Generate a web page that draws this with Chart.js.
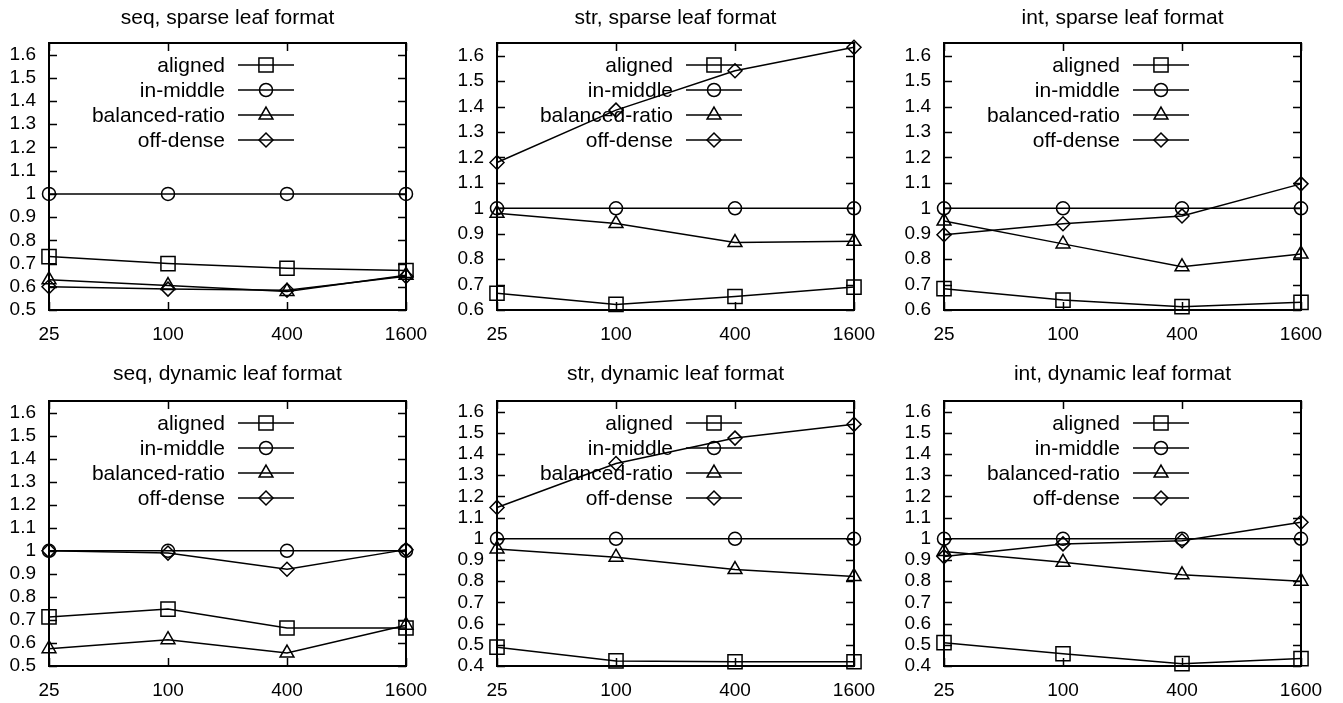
<!DOCTYPE html>
<html>
<head>
<meta charset="utf-8">
<script src="https://cdn.jsdelivr.net/npm/chart.js@4/dist/chart.umd.min.js"></script>
<style>
  html, body { margin: 0; padding: 0; background: #fff; overflow: hidden; }
  canvas { position: absolute; }
</style>
</head>
<body>
<canvas id="c0" width="447" height="345" style="left:0px;top:0px"></canvas>
<canvas id="c1" width="447" height="345" style="left:448px;top:0px"></canvas>
<canvas id="c2" width="447" height="345" style="left:895px;top:0px"></canvas>
<canvas id="c3" width="447" height="345" style="left:0px;top:358px"></canvas>
<canvas id="c4" width="447" height="345" style="left:448px;top:358px"></canvas>
<canvas id="c5" width="447" height="345" style="left:895px;top:358px"></canvas>
<script>
// x: log-spaced sizes, drawn evenly
const sizes = ["25", "100", "400", "1600"];
const seriesNames = ["aligned", "in-middle", "balanced-ratio", "off-dense"];
const markers = ["rect", "circle", "triangle", "rectRot"];
const markerRadius = [10, 6.5, 8, 7];

const titles = [
	"seq, sparse leaf format", "str, sparse leaf format", "int, sparse leaf format",
	"seq, dynamic leaf format", "str, dynamic leaf format", "int, dynamic leaf format"
];
const yMins = [0.5, 0.6, 0.6, 0.5, 0.4, 0.4];
const yMax = 1.65;

// values per panel: aligned, in-middle, balanced-ratio, off-dense
const seqSparse = [
	[0.73, 0.70, 0.68, 0.67],
	[1, 1, 1, 1],
	[0.63, 0.605, 0.58, 0.65],
	[0.60, 0.59, 0.585, 0.645]
];
const strSparse = [
	[0.666, 0.622, 0.653, 0.69],
	[1, 1, 1, 1],
	[0.98, 0.94, 0.865, 0.87],
	[1.18, 1.386, 1.541, 1.633]
];
const intSparse = [
	[0.684, 0.639, 0.613, 0.63],
	[1, 1, 1, 1],
	[0.95, 0.86, 0.77, 0.82],
	[0.896, 0.939, 0.97, 1.096]
];
const seqDynamic = [
	[0.713, 0.747, 0.665, 0.665],
	[1, 1, 1, 1],
	[0.575, 0.614, 0.556, 0.677],
	[1.0, 0.99, 0.92, 1.005]
];
const strDynamic = [
	[0.489, 0.424, 0.42, 0.42],
	[1, 1, 1, 1],
	[0.952, 0.913, 0.855, 0.822],
	[1.148, 1.355, 1.475, 1.54]
];
const intDynamic = [
	[0.51, 0.458, 0.411, 0.435],
	[1, 1, 1, 1],
	[0.94, 0.889, 0.83, 0.80],
	[0.916, 0.976, 0.991, 1.078]
];
const panels = [seqSparse, strSparse, intSparse, seqDynamic, strDynamic, intDynamic];

const FONT = "'Liberation Sans', Arial, sans-serif";

// gnuplot style frame with inward ticks, title over the box, and key
let gnuplotFrame = {
	id: "gnuplotFrame",
	beforeDatasetsDraw: function(chart, args, opts){
		let ctx = chart.ctx;
		let a = chart.chartArea;
		let xs = chart.scales.x, ys = chart.scales.y;
		ctx.save();
		ctx.strokeStyle = "#000";
		ctx.lineWidth = 1.5;
		ctx.beginPath();
		for(let t of ys.ticks){
			let y = Math.round(ys.getPixelForValue(t.value)) + 0.5;
			ctx.moveTo(a.left, y); ctx.lineTo(a.left + 8, y);
			ctx.moveTo(a.right, y); ctx.lineTo(a.right - 8, y);
		}
		for(let i = 0; i < sizes.length; i++){
			let x = Math.round(xs.getPixelForValue(i)) + 0.5;
			ctx.moveTo(x, a.bottom); ctx.lineTo(x, a.bottom - 8);
			ctx.moveTo(x, a.top); ctx.lineTo(x, a.top + 8);
		}
		ctx.stroke();
		ctx.lineWidth = 2;
		ctx.strokeRect(a.left, a.top, a.right - a.left, a.bottom - a.top);

		// title
		ctx.font = "21px " + FONT;
		ctx.fillStyle = "#000";
		ctx.textAlign = "center";
		ctx.textBaseline = "middle";
		ctx.fillText(opts.title, (a.left + a.right) / 2, opts.titleY);

		// key
		ctx.textAlign = "right";
		chart.data.datasets.forEach(function(ds, i){
			let y = a.top + 22 + i * 25;
			ctx.fillStyle = "#000";
			ctx.fillText(ds.label, a.left + 176, y + 1);
			ctx.lineWidth = 1.5;
			ctx.beginPath();
			ctx.moveTo(a.left + 189, y); ctx.lineTo(a.left + 245, y);
			ctx.stroke();
			ctx.fillStyle = "rgba(0,0,0,0)";
			Chart.helpers.drawPoint(ctx, {
				pointStyle: ds.pointStyle, radius: ds.pointRadius, rotation: 0, borderWidth: 1.5
			}, a.left + 217, y);
		});
		ctx.restore();
	}
};

let renderPanel = function(idx){
	let row = idx < 3 ? 0 : 1;
	let datasets = panels[idx].map(function(vals, i){
		return {
			label: seriesNames[i],
			data: vals,
			borderColor: "#000",
			borderWidth: 1.5,
			backgroundColor: "transparent",
			pointStyle: markers[i],
			pointRadius: markerRadius[i],
			pointBorderWidth: 1.5,
			pointBackgroundColor: "transparent",
			pointBorderColor: "#000",
			tension: 0,
			clip: false
		};
	});
	let ctx = document.getElementById("c" + idx).getContext("2d");
	new Chart(ctx, {
		type: "line",
		data: { labels: sizes, datasets: datasets },
		plugins: [gnuplotFrame],
		options: {
			responsive: false,
			animation: false,
			layout: { padding: { left: 0, right: 41, top: 43, bottom: 0 } },
			plugins: {
				legend: { display: false },
				tooltip: { enabled: false },
				title: { display: false },
				gnuplotFrame: { title: titles[idx], titleY: row == 0 ? 18 : 16 }
			},
			scales: {
				x: {
					type: "category",
					offset: false,
					grid: { display: false, drawTicks: false },
					border: { display: false },
					ticks: {
						color: "#000", padding: 13, maxRotation: 0, autoSkip: false,
						font: { family: FONT, size: 19 }
					},
					afterFit: function(s){ s.height = row == 0 ? 35 : 37; }
				},
				y: {
					min: yMins[idx],
					max: yMax,
					grid: { display: false, drawTicks: false },
					border: { display: false },
					ticks: {
						stepSize: 0.1, includeBounds: false, autoSkip: false, color: "#000", padding: 13,
						font: { family: FONT, size: 19 },
						callback: function(v){ return String(Math.round(v * 10) / 10); }
					},
					afterFit: function(s){ s.width = 49; }
				}
			}
		}
	});
};

for(let i = 0; i < panels.length; i++){
	renderPanel(i);
}
</script>
</body>
</html>
